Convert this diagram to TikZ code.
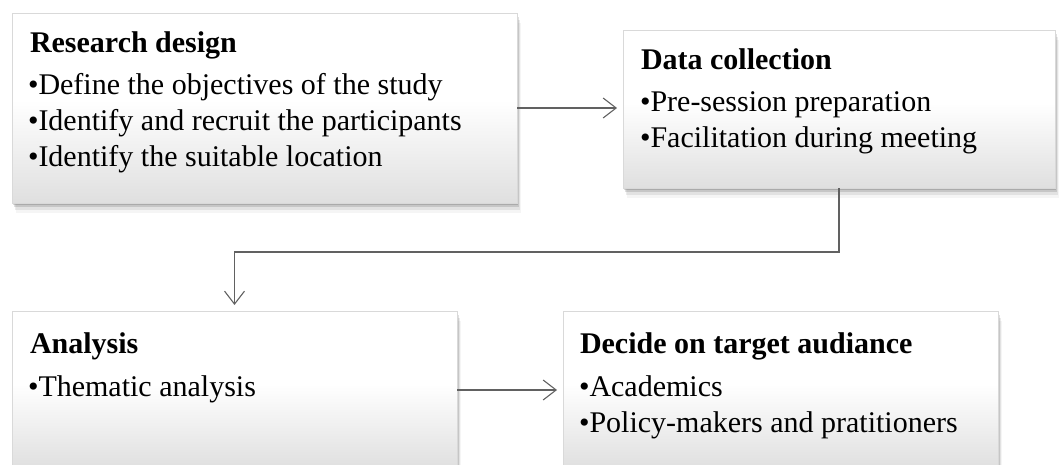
\documentclass[tikz,border=0pt]{standalone}
\usepackage{fontspec}
\setmainfont{Liberation Serif}
\usetikzlibrary{arrows.meta,shadows,calc}
\pgfdeclareverticalshading{boxshade}{100bp}{color(0bp)=(gray!25); color(25bp)=(gray!25); color(52bp)=(white); color(100bp)=(white)}
\tikzset{
  flowbox/.style={rectangle, anchor=north west, inner sep=0pt, outer sep=0pt,
    shading=boxshade, draw=gray!30, line width=0.8pt,
    general shadow={fill=black, opacity=0.14, shadow xshift=1pt, shadow yshift=-2pt},
    general shadow={fill=black, opacity=0.12, shadow xshift=2pt, shadow yshift=-4pt},
    general shadow={fill=black, opacity=0.08, shadow xshift=3pt, shadow yshift=-7pt},
    general shadow={fill=black, opacity=0.04, shadow xshift=4pt, shadow yshift=-10pt}},
  txt/.style={anchor=base west, inner sep=0pt, outer sep=0pt, font=\fontsize{30}{35}\selectfont},
  ttl/.style={txt, font=\fontsize{30}{35}\selectfont\bfseries},
  conn/.style={draw=black!62, line width=1.1pt, -{Straight Barb[length=13pt,width=20pt,line width=1.1pt]}, shorten >=6pt}
}
\begin{document}
\begin{tikzpicture}[x=1pt,y=1pt]
\useasboundingbox (0,0) rectangle (1059,-465);
\clip (0,0) rectangle (1059,-465);
% boxes
\node[flowbox, minimum width=505pt, minimum height=190pt] (b1) at (12,-13) {};
\node[flowbox, minimum width=432pt, minimum height=158pt] (b2) at (623,-30) {};
\node[flowbox, minimum width=445pt, minimum height=158pt] (b3) at (12,-311) {};
\node[flowbox, minimum width=435pt, minimum height=158pt] (b4) at (563,-311) {};
% texts box 1
\node[ttl] (b1t) at ([shift={(18,-40)}]b1.north west) {Research design};
\node[txt] (b1a) at ([shift={(16,-82)}]b1.north west) {•Define the objectives of the study};
\node[txt] (b1b) at ([shift={(16,-118)}]b1.north west) {•Identify and recruit the participants};
\node[txt] (b1c) at ([shift={(16,-154)}]b1.north west) {•Identify the suitable location};
% texts box 2
\node[ttl] (b2t) at ([shift={(18,-40)}]b2.north west) {Data collection};
\node[txt] (b2a) at ([shift={(17,-82)}]b2.north west) {•Pre-session preparation};
\node[txt] (b2b) at ([shift={(17,-118)}]b2.north west) {•Facilitation during meeting};
% texts box 3
\node[ttl] (b3t) at ([shift={(18,-42)}]b3.north west) {Analysis};
\node[txt] (b3a) at ([shift={(16,-85)}]b3.north west) {•Thematic analysis};
% texts box 4
\node[ttl] (b4t) at ([shift={(17,-42)}]b4.north west) {Decide on target audiance};
\node[txt] (b4a) at ([shift={(16,-85)}]b4.north west) {•Academics};
\node[txt] (b4b) at ([shift={(16,-121)}]b4.north west) {•Policy-makers and pratitioners};
% connectors
\draw[conn] (b1.east) -- (b1.east -| b2.west);
\coordinate (elb) at ([yshift=-64pt]b2.south);
\draw[conn] (b2.south) -- (elb) -| (b3.north);
\draw[conn] (b3.east) -- (b4.west);
\end{tikzpicture}
\end{document}
